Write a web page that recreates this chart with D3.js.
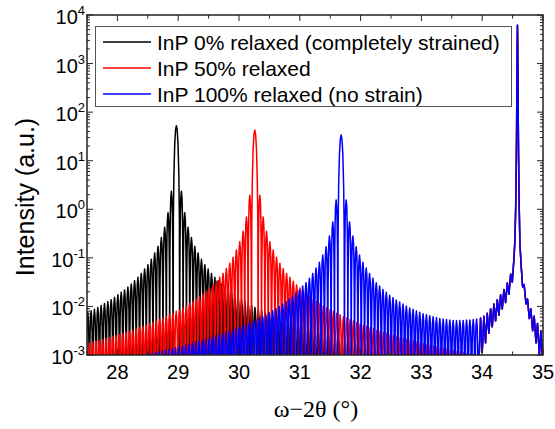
<!DOCTYPE html>
<html lang="en">
<head>
  <meta charset="UTF-8">
  <title>InP relaxation XRD</title>
  <script src="https://d3js.org/d3.v7.min.js"></script>
  <style>
    body { margin: 0; background: #fff; }
    text { font-family: Arial, "Liberation Sans", sans-serif; fill: #000; }
  </style>
</head>
<body>
<div id="chart"></div>
<script>
// ---- data ----
const xTicks = [28, 29, 30, 31, 32, 33, 34, 35];
const yExponents = [-3, -2, -1, 0, 1, 2, 3, 4];
const seriesNames = ["InP 0% relaxed (completely strained)", "InP 50% relaxed", "InP 100% relaxed (no strain)"];
const seriesColors = ["#000000", "#ff0000", "#0000ff"];

// fringe period in degrees, and log10 level used for the deep minima
const fringePeriod = 0.055;
const floorLog = -4;

// layer peak centres and peak heights (log10)
const peakCentre = [28.97, 30.26, 31.68];
const peakLog = [1.72, 1.63, 1.53];

// shape of one fringe on the log axis: [phase within the period, drop below the fringe maximum]
const fringeProfile = [[0.04,-1.8],[0.1,-1.0],[0.2,-0.45],[0.32,-0.14],[0.5,0],[0.68,-0.14],[0.8,-0.45],[0.9,-1.0],[0.96,-1.8]];
// shape of the main peak: [offset in periods, drop below the peak]
const centralProfile = [[-0.9,-1.92],[-0.75,-1.05],[-0.5,-0.39],[-0.25,-0.09],[0,0],[0.25,-0.09],[0.5,-0.39],[0.75,-1.05],[0.9,-1.92]];

// log10 of fringe maxima, going outwards from the peak (k = 1, 2, ...)
const blackLeft = [0.37,-0.07,-0.37,-0.58,-0.76,-0.90,-1.03,-1.14,-1.23,-1.32,-1.40,-1.47,-1.54,-1.60,-1.66,-1.71,-1.76,-1.81,-1.86,-1.90,-1.94,-1.98,-2.02,-2.06,-2.09,-2.12,-2.16];
const blackRight = [0.37,-0.07,-0.37,-0.58,-0.76,-0.90,-1.03,-1.14,-1.23,-1.32,-1.40,-1.47,-1.54,-1.60,-1.66,-1.71,-1.76,-1.81,-1.86,-1.90,-1.94,-1.98,-2.02,-2.06,-2.09,-2.12,-2.16,
  -2.19,-2.22,-2.25,-2.28,-2.30,-2.33,-2.35,-2.38,-2.40,-2.43,-2.45,-2.47,-2.49,-2.51,-2.54,-2.56,-2.58,-2.59,-2.61,-2.63,-2.65,-2.67,-2.69,-2.70,
  -2.72,-2.73,-2.75,-2.77,-2.78,-2.80,-2.81,-2.83,-2.84,-2.86,-2.87,-2.88,-2.90,-2.91,-2.92,-2.94,-2.95,-2.96,-2.98,-2.99,-3.00];

const redLeft = [0.29,-0.16,-0.45,-0.67,-0.84,-0.99,-1.11,-1.22,-1.32,-1.40,-1.48,-1.56,-1.62,-1.68,-1.74,-1.80,-1.85,-1.90,-1.94,-1.99,
  -2.03,-2.07,-2.10,-2.14,-2.17,-2.21,-2.24,-2.27,-2.30,-2.33,-2.36,-2.39,-2.41,-2.44,-2.46,-2.49,-2.51,-2.53,-2.55,-2.58,
  -2.60,-2.62,-2.64,-2.66,-2.68,-2.70,-2.71,-2.73,-2.75,-2.77];
const redRight = [0.29,-0.16,-0.45,-0.67,-0.84,-0.99,-1.11,-1.22,-1.32,-1.40,-1.48,-1.56,-1.62,-1.68,-1.74,-1.80,-1.85,-1.90,-1.94,-1.99,
  -2.03,-2.07,-2.10,-2.14,-2.17,-2.21,-2.24,-2.27,-2.30,-2.33,-2.36,-2.39,-2.41,-2.44,-2.46,-2.49,-2.51,-2.53,-2.55,-2.58,
  -2.60,-2.62,-2.64,-2.66,-2.68,-2.70,-2.71,-2.73,-2.75,-2.77,-2.79,-2.80,-2.82,-2.83,-2.85,-2.87,-2.88,-2.90,-2.91,-2.93,
  -2.94,-2.95,-2.97,-2.98,-2.99,-3.01];

const blueLeft = [0.19,-0.26,-0.55,-0.77,-0.94,-1.09,-1.21,-1.32,-1.42,-1.51,-1.58,-1.66,-1.72,-1.79,-1.84,-1.90,-1.95,-2.00,-2.04,-2.09,
  -2.13,-2.17,-2.21,-2.24,-2.28,-2.31,-2.34,-2.37,-2.40,-2.43,-2.46,-2.49,-2.51,-2.54,-2.56,-2.59,-2.61,-2.63,-2.66,-2.68,
  -2.70,-2.72,-2.74,-2.76,-2.78,-2.80,-2.82,-2.83,-2.85,-2.87,-2.89,-2.90,-2.92,-2.94,-2.95,-2.97,-2.98,-3.00];
const blueRight = [0.19,-0.26,-0.55,-0.77,-0.94,-1.09,-1.21,-1.32,-1.42,-1.51,-1.58,-1.65,-1.71,-1.77,-1.82,-1.87,-1.91,-1.95,-1.99,-2.03,
  -2.06,-2.09,-2.12,-2.15,-2.17,-2.19,-2.21,-2.23,-2.25,-2.26,-2.27,-2.28,-2.29,-2.29,-2.29,-2.29,-2.28,-2.28,-2.27,-2.26];

// InP substrate peak region, shared by all three curves: [2theta, log10 I]
const substrate = [[33.945,-3.2],[33.973,-2.24],[34.0,-2.95],[34.028,-2.2],[34.055,-2.75],[34.083,-2.14],[34.11,-2.55],[34.138,-2.05],
  [34.165,-2.42],[34.193,-1.95],[34.22,-2.3],[34.248,-1.86],[34.275,-2.18],[34.303,-1.76],[34.33,-2.05],[34.358,-1.65],
  [34.385,-1.92],[34.413,-1.52],[34.44,-1.75],[34.468,-1.33],[34.495,-1.5],[34.52,-1.05],[34.54,-0.6],[34.555,0.3],
  [34.565,1.5],[34.573,3.0],[34.58,3.79],[34.587,3.0],[34.595,1.5],[34.605,0.3],[34.62,-0.7],[34.64,-1.15],
  [34.665,-1.6],[34.69,-1.55],[34.72,-1.95],[34.745,-1.85],[34.775,-2.25],[34.8,-2.05],[34.83,-2.5],[34.855,-2.2],
  [34.885,-2.75],[34.91,-2.35],[34.94,-3.0],[34.965,-2.5],[34.995,-3.2],[35.02,-2.6]];

const fringeSides = [[blackLeft, blackRight], [redLeft, redRight], [blueLeft, blueRight]];

// ---- layout ----
const W = 555, H = 429;
const margin = {top: 15, right: 12, bottom: 74, left: 87};
const gw = W - margin.left - margin.right;
const gh = H - margin.top - margin.bottom;

const svg = d3.select("#chart").append("svg")
  .attr("width", W)
  .attr("height", H);

const graph = svg.append("g")
  .attr("transform", `translate(${margin.left},${margin.top})`);

const x = d3.scaleLinear().domain([27.5, 35]).range([0, gw]);
const y = d3.scaleLog().domain([1e-3, 1e4]).range([gh, 0]);

svg.append("clipPath").attr("id", "plotclip")
  .append("rect").attr("width", gw).attr("height", gh);

// build the vertex list of one curve
function buildCurve(i) {
  const c = peakCentre[i];
  const p = fringePeriod;
  const pts = [[27.3, floorLog]];
  centralProfile.forEach(d => pts.push([c + d[0] * p, peakLog[i] + d[1]]));
  const addFringe = (lo, top) => {
    pts.push([lo, floorLog]);
    fringeProfile.forEach(d => pts.push([lo + d[0] * p, Math.max(floorLog, top + d[1])]));
    pts.push([lo + p, floorLog]);
  };
  fringeSides[i][0].forEach((v, j) => addFringe(c - (j + 2) * p, v));
  fringeSides[i][1].forEach((v, j) => addFringe(c + (j + 1) * p, v));
  const start = substrate[0][0];
  const film = pts.filter(d => d[0] < start).sort((a, b) => a[0] - b[0]);
  return film.concat(substrate);
}

const line = d3.line()
  .x(d => x(d[0]))
  .y(d => y(Math.pow(10, d[1])));

const curves = graph.append("g").attr("clip-path", "url(#plotclip)");
seriesNames.forEach((name, i) => {
  curves.append("path")
    .datum(buildCurve(i))
    .attr("d", line)
    .attr("fill", "none")
    .attr("stroke", seriesColors[i])
    .attr("stroke-width", 1.5)
    .attr("stroke-linejoin", "round");
});

// ---- axes ----
const axisColor = "#222";
const xMinor = d3.range(27.5, 35.01, 0.5).filter(v => !xTicks.includes(v));
const yMinor = [];
yExponents.slice(0, -1).forEach(e => {
  for (let m = 2; m <= 9; m++) yMinor.push(m * Math.pow(10, e));
});
const yMajor = yExponents.map(e => Math.pow(10, e));

function tickMarks(g, vals, scale, orient, len) {
  g.selectAll(null).data(vals).enter().append("line")
    .attr("x1", d => orient === "h" ? scale(d) : 0)
    .attr("x2", d => orient === "h" ? scale(d) : len)
    .attr("y1", d => orient === "h" ? 0 : scale(d))
    .attr("y2", d => orient === "h" ? len : scale(d))
    .attr("stroke", axisColor)
    .attr("stroke-width", 1);
}

// bottom & top
const gBottom = graph.append("g").attr("transform", `translate(0,${gh})`);
tickMarks(gBottom, xTicks, x, "h", -6);
tickMarks(gBottom, xMinor, x, "h", -3.5);
const gTop = graph.append("g");
tickMarks(gTop, xTicks, x, "h", 6);
tickMarks(gTop, xMinor, x, "h", 3.5);
// left & right
const gLeft = graph.append("g");
tickMarks(gLeft, yMajor, y, "v", 6);
tickMarks(gLeft, yMinor, y, "v", 3);
const gRight = graph.append("g").attr("transform", `translate(${gw},0)`);
tickMarks(gRight, yMajor, y, "v", -6);
tickMarks(gRight, yMinor, y, "v", -3);

graph.append("rect")
  .attr("width", gw).attr("height", gh)
  .attr("fill", "none")
  .attr("stroke", axisColor)
  .attr("stroke-width", 1.5);

// x tick labels
gBottom.selectAll("text.xt").data(xTicks).enter().append("text")
  .attr("x", d => x(d))
  .attr("y", 24)
  .attr("text-anchor", "middle")
  .style("font-size", "20px")
  .text(d => d);

// y tick labels 10^n
const yl = gLeft.selectAll("text.yt").data(yExponents).enter().append("text")
  .attr("x", -2)
  .attr("y", d => y(Math.pow(10, d)) + 9)
  .attr("text-anchor", "end")
  .style("font-size", "20px");
yl.append("tspan").text("10");
yl.append("tspan")
  .attr("dy", -9)
  .style("font-size", "13px")
  .text(d => d);

// axis titles
svg.append("text")
  .attr("transform", `translate(34,${margin.top + gh / 2 + 12}) rotate(-90)`)
  .attr("text-anchor", "middle")
  .style("font-size", "25px")
  .text("Intensity (a.u.)");

svg.append("text")
  .attr("x", margin.left + gw / 2 + 1)
  .attr("y", 417)
  .attr("text-anchor", "middle")
  .style("font-family", "'Liberation Serif', 'Times New Roman', serif")
  .style("font-size", "24px")
  .text("\u03c9\u22122\u03b8 (\u00b0)");

// ---- legend ----
const legend = svg.append("g");
legend.append("rect")
  .attr("x", 95.5).attr("y", 26.5)
  .attr("width", 416).attr("height", 80)
  .attr("fill", "#fff")
  .attr("stroke", "#555")
  .attr("stroke-width", 1);
seriesNames.forEach((name, i) => {
  const ry = 42 + i * 26;
  legend.append("line")
    .attr("x1", 103).attr("x2", 151)
    .attr("y1", ry).attr("y2", ry)
    .attr("stroke", seriesColors[i])
    .attr("stroke-width", 1.5);
  legend.append("text")
    .attr("x", 157).attr("y", ry + 8)
    .style("font-size", "21px")
    .text(name);
});
</script>
</body>
</html>
